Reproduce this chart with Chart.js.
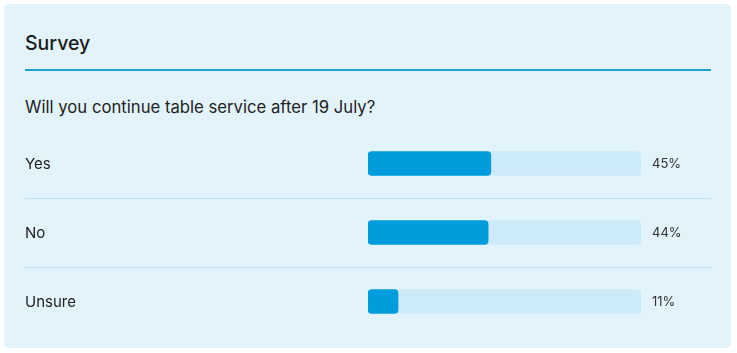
<!DOCTYPE html>
<html><head><meta charset="utf-8">
<script src="https://cdn.jsdelivr.net/npm/chart.js@4"></script>
<style>
html,body{margin:0;padding:0;background:#fff;}
body{width:737px;height:353px;position:relative;overflow:hidden;font-family:Inter,"Noto Sans",sans-serif;color:#1d1d1f;}
.card{position:absolute;left:4px;top:4px;width:727px;height:344px;background:#e2f3fb;border-radius:5px;}
.title{position:absolute;left:25px;top:31px;font-size:19.5px;font-weight:500;color:#1b1b1b;}
.rule{position:absolute;left:25px;top:69px;width:686px;height:2px;background:#1ea1d2;}
.q{position:absolute;left:25px;top:97px;font-size:16.7px;color:#222;}
canvas{position:absolute;left:0;top:0;}
</style></head>
<body>
<div class="card"></div>
<div class="title">Survey</div>
<div class="rule"></div>
<div class="q">Will you continue table service after 19 July?</div>
<canvas id="c" width="737" height="353"></canvas>
<script>
const categories = ["Yes", "No", "Unsure"];
const percentages = [45, 44, 11];
const totals = [100, 100, 100];

const extras = {
  id: 'extras',
  beforeDatasetsDraw(chart) {
    const ctx = chart.ctx, y = chart.scales.y;
    ctx.save();
    ctx.strokeStyle = '#c3e2f1';
    ctx.lineWidth = 1;
    for (let i = 0; i < categories.length - 1; i++) {
      const yy = Math.round((y.getPixelForValue(i) + y.getPixelForValue(i + 1)) / 2) + 0.5;
      ctx.beginPath(); ctx.moveTo(25, yy); ctx.lineTo(711, yy); ctx.stroke();
    }
    ctx.restore();
  },
  afterDatasetsDraw(chart) {
    const ctx = chart.ctx, y = chart.scales.y, area = chart.chartArea;
    ctx.save();
    ctx.font = '13px Inter, "Noto Sans", sans-serif';
    ctx.fillStyle = '#333';
    ctx.textBaseline = 'middle';
    ctx.textAlign = 'left';
    percentages.forEach((v, i) => {
      ctx.fillText(v + '%', area.right + 11, y.getPixelForValue(i) + 1);
    });
    ctx.restore();
  }
};

new Chart(document.getElementById('c'), {
  type: 'bar',
  data: {
    labels: categories,
    datasets: [
      {data: percentages, backgroundColor: '#019cdc', barThickness: 24, borderRadius: 4, borderSkipped: false, grouped: false},
      {data: totals, backgroundColor: '#cdeaf8', barThickness: 24, borderRadius: 4, borderSkipped: false, grouped: false}
    ]
  },
  options: {
    indexAxis: 'y',
    responsive: false,
    animation: false,
    layout: {padding: {top: 129, bottom: 17, left: 25, right: 96}},
    plugins: {legend: {display: false}, tooltip: {enabled: false}},
    scales: {
      x: {display: false, min: 0, max: 100},
      y: {
        grid: {display: false},
        border: {display: false},
        ticks: {crossAlign: 'far', padding: 0, labelOffset: 1, color: '#222', font: {family: 'Inter, "Noto Sans", sans-serif', size: 15}},
        afterFit(s) { s.width = 343; }
      }
    }
  },
  plugins: [extras]
});
</script>
</body></html>
